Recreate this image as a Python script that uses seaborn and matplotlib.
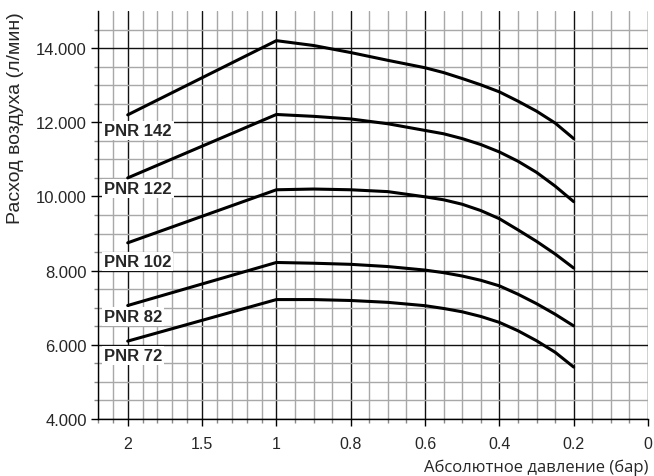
import numpy as np
import pandas as pd
import matplotlib
matplotlib.use("Agg")
import matplotlib.pyplot as plt
import matplotlib.ticker as mticker
import seaborn as sns

# ---------------- data ----------------
pressure = [2, 1, 0.9, 0.8, 0.7, 0.6, 0.55, 0.5, 0.45, 0.4, 0.35, 0.3, 0.25, 0.2]
pnr142 = [12200, 14200, 14070, 13880, 13670, 13470, 13340, 13180, 13010, 12820, 12570, 12300, 11980, 11560]
pnr122 = [10500, 12210, 12160, 12090, 11960, 11780, 11690, 11560, 11400, 11200, 10950, 10650, 10280, 9860]
pnr102 = [8750, 10180, 10200, 10180, 10130, 9990, 9910, 9790, 9620, 9400, 9100, 8790, 8450, 8070]
pnr82 = [7060, 8220, 8200, 8170, 8110, 8015, 7945, 7855, 7740, 7590, 7365, 7110, 6825, 6510]
pnr72 = [6100, 7220, 7220, 7195, 7145, 7055, 6980, 6890, 6765, 6605, 6380, 6110, 5800, 5400]
models = ["PNR 142", "PNR 122", "PNR 102", "PNR 82", "PNR 72"]
series = [pnr142, pnr122, pnr102, pnr82, pnr72]
label_y = [11775, 10215, 8250, 6770, 5720]

x_major = [2, 1.5, 1, 0.8, 0.6, 0.4, 0.2, 0]
x_tick_labels = ["2", "1.5", "1", "0.8", "0.6", "0.4", "0.2", "0"]
y_major = [4000, 6000, 8000, 10000, 12000, 14000]

xlabel = "Абсолютное давление (бар)"
ylabel = "Расход воздуха (л/мин)"

df = pd.DataFrame({
    "p": np.tile(pressure, len(models)),
    "flow": np.concatenate(series),
    "model": np.repeat(models, len(pressure)),
})

# ---------------- figure ----------------
sns.set_style("white")
plt.rcParams["font.family"] = ["Liberation Sans", "DejaVu Sans"]

fig = plt.figure(figsize=(6.54, 4.77), dpi=100)
ax = fig.add_axes([98 / 654, 1 - 420 / 477, 550 / 654, 408 / 477])

# piecewise pressure scale (increasing): 1..2 -> 2 steps, 0..1 -> 5 steps
def fwd(p):
    p = np.asarray(p, dtype=float)
    return np.where(p >= 1, 2 * p - 4, 5 * p - 7)

def inv(u):
    u = np.asarray(u, dtype=float)
    return np.where(u >= -2, (u + 4) / 2, (u + 7) / 5)

ax.set_xscale("function", functions=(fwd, inv))

sns.lineplot(data=df, x="p", y="flow", hue="model", units="model",
             estimator=None, sort=False, palette=["black"] * len(models),
             linewidth=2.2, legend=False, ax=ax, zorder=5)

ax.set_xlim(2.2, 0)
ax.set_ylim(4000, 15000)

x_minor = [2.2, 2.1, 1.9, 1.8, 1.7, 1.6, 1.4, 1.3, 1.2, 1.1,
           0.95, 0.9, 0.85, 0.75, 0.7, 0.65, 0.55, 0.5, 0.45,
           0.35, 0.3, 0.25, 0.15, 0.1, 0.05]
ax.xaxis.set_major_locator(mticker.FixedLocator(x_major))
ax.xaxis.set_major_formatter(mticker.FixedFormatter(x_tick_labels))
ax.xaxis.set_minor_locator(mticker.FixedLocator(x_minor))
ax.xaxis.set_minor_formatter(mticker.NullFormatter())

y_minor = [v for v in np.arange(4500, 15000, 500) if v % 2000 != 0]
ax.yaxis.set_major_locator(mticker.FixedLocator(y_major))
ax.yaxis.set_major_formatter(mticker.FuncFormatter(lambda v, _: f"{v:,.0f}".replace(",", ".")))
ax.yaxis.set_minor_locator(mticker.FixedLocator(y_minor))

ax.grid(which="minor", color="#a8a8a8", linewidth=1.0, zorder=1)
ax.grid(which="major", color="#111111", linewidth=1.0, zorder=2)
ax.set_axisbelow(True)

for s in ["top", "right"]:
    ax.spines[s].set_visible(False)
for s in ["left", "bottom"]:
    ax.spines[s].set_color("black")
    ax.spines[s].set_linewidth(1.0)

ax.tick_params(axis="both", which="major", direction="out", length=5, width=1,
               color="black", bottom=True, left=True)
ax.tick_params(axis="both", which="minor", direction="out", length=3, width=1,
               color="#888888", bottom=True, left=True)
ax.tick_params(axis="y", labelsize=12, pad=3)
ax.tick_params(axis="x", labelsize=11.5, pad=7)

ax.set_xlabel(xlabel, fontsize=12, family=["Open Sans", "DejaVu Sans"],
              loc="right", labelpad=6)
ax.set_ylabel(ylabel, fontsize=14, family=["Liberation Sans", "DejaVu Sans"],
              loc="top", labelpad=9)

trans = matplotlib.transforms.blended_transform_factory(ax.transAxes, ax.transData)
for name, yv in zip(models, label_y):
    ax.text(0.011, yv, name, transform=trans, ha="left", va="center",
            fontsize=12, fontweight="bold", zorder=4,
            bbox=dict(facecolor="white", edgecolor="none", pad=1.5))

fig.savefig("out.png", dpi=100)
